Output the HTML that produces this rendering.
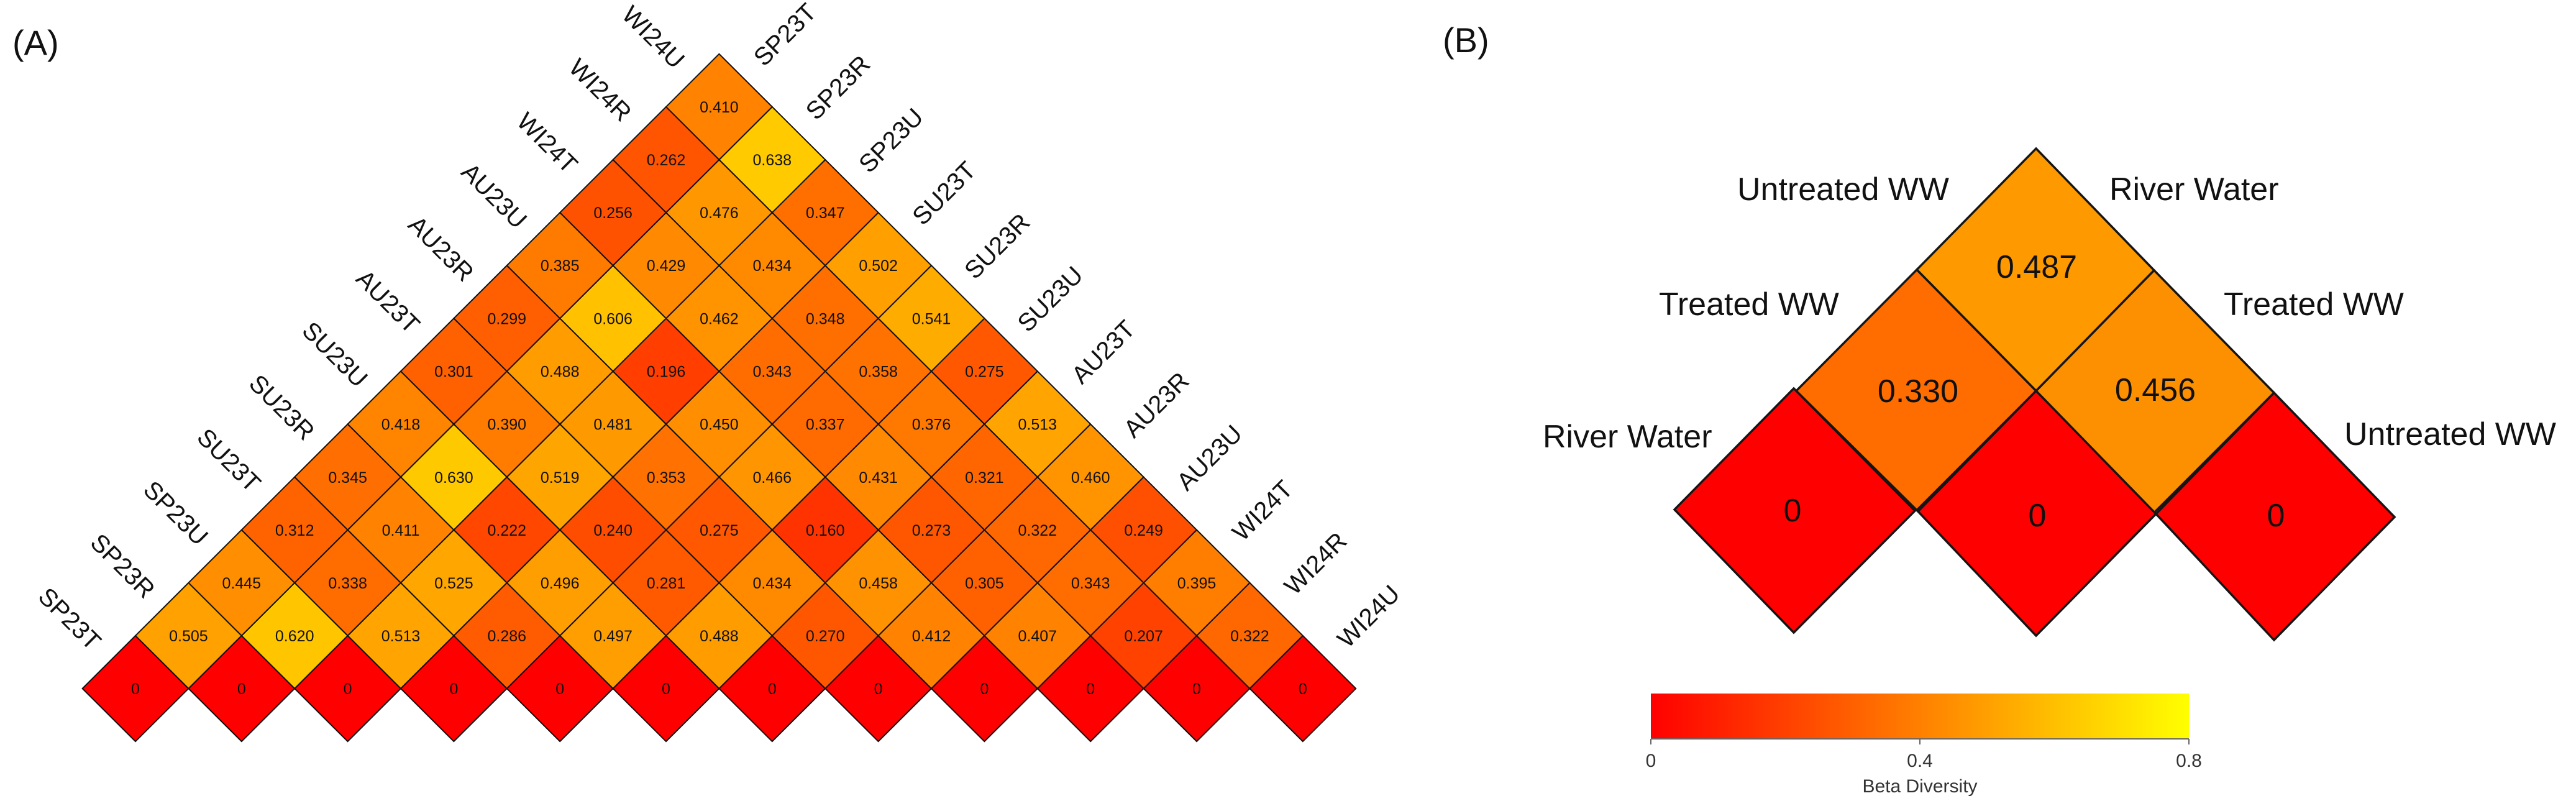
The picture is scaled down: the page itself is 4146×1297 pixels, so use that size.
<!DOCTYPE html>
<html><head><meta charset="utf-8"><style>
html,body{margin:0;padding:0;background:#fff;}
svg{display:block;}
text{font-family:"Liberation Sans",Arial,sans-serif;fill:#111;}
.n{font-size:25px;text-anchor:middle;}
.l{font-size:40px;text-anchor:middle;dominant-baseline:middle;}
.b{font-size:52px;text-anchor:middle;}
</style></head><body>
<svg width="4146" height="1297" viewBox="0 0 4146 1297" xmlns="http://www.w3.org/2000/svg">
<defs>
<polygon id="d" points="-85.4,0 0,-85.1 85.4,0 0,85.1" stroke="#111" stroke-width="2"/>
<linearGradient id="cb" x1="0" x2="1" y1="0" y2="0">
<stop offset="0" stop-color="#ff0000"/><stop offset="0.5" stop-color="#ff8000"/><stop offset="1" stop-color="#ffff00"/>
</linearGradient>
</defs>
<rect width="4146" height="1297" fill="#fff"/>
<text x="20" y="88" style="font-size:56px">(A)</text>
<text x="2322" y="84" style="font-size:56px">(B)</text>

<!-- row 0 -->
<use href="#d" x="218" y="1108" fill="#ff0000"/><use href="#d" x="388.8" y="1108" fill="#ff0000"/><use href="#d" x="559.6" y="1108" fill="#ff0000"/><use href="#d" x="730.4" y="1108" fill="#ff0000"/><use href="#d" x="901.2" y="1108" fill="#ff0000"/><use href="#d" x="1072" y="1108" fill="#ff0000"/><use href="#d" x="1242.8" y="1108" fill="#ff0000"/><use href="#d" x="1413.6" y="1108" fill="#ff0000"/><use href="#d" x="1584.4" y="1108" fill="#ff0000"/><use href="#d" x="1755.2" y="1108" fill="#ff0000"/><use href="#d" x="1926" y="1108" fill="#ff0000"/><use href="#d" x="2096.8" y="1108" fill="#ff0000"/>
<!-- row 1 -->
<use href="#d" x="303.4" y="1022.9" fill="rgb(255,161,0)"/><use href="#d" x="474.2" y="1022.9" fill="rgb(255,198,0)"/><use href="#d" x="645" y="1022.9" fill="rgb(255,164,0)"/><use href="#d" x="815.8" y="1022.9" fill="rgb(255,91,0)"/><use href="#d" x="986.6" y="1022.9" fill="rgb(255,158,0)"/><use href="#d" x="1157.4" y="1022.9" fill="rgb(255,156,0)"/><use href="#d" x="1328.2" y="1022.9" fill="rgb(255,86,0)"/><use href="#d" x="1499" y="1022.9" fill="rgb(255,131,0)"/><use href="#d" x="1669.8" y="1022.9" fill="rgb(255,130,0)"/><use href="#d" x="1840.6" y="1022.9" fill="rgb(255,66,0)"/><use href="#d" x="2011.4" y="1022.9" fill="rgb(255,103,0)"/>
<!-- row 2 -->
<use href="#d" x="388.8" y="937.8" fill="rgb(255,142,0)"/><use href="#d" x="559.6" y="937.8" fill="rgb(255,108,0)"/><use href="#d" x="730.4" y="937.8" fill="rgb(255,167,0)"/><use href="#d" x="901.2" y="937.8" fill="rgb(255,158,0)"/><use href="#d" x="1072" y="937.8" fill="rgb(255,90,0)"/><use href="#d" x="1242.8" y="937.8" fill="rgb(255,138,0)"/><use href="#d" x="1413.6" y="937.8" fill="rgb(255,146,0)"/><use href="#d" x="1584.4" y="937.8" fill="rgb(255,97,0)"/><use href="#d" x="1755.2" y="937.8" fill="rgb(255,109,0)"/><use href="#d" x="1926" y="937.8" fill="rgb(255,126,0)"/>
<!-- row 3 -->
<use href="#d" x="474.2" y="852.7" fill="rgb(255,99,0)"/><use href="#d" x="645" y="852.7" fill="rgb(255,131,0)"/><use href="#d" x="815.8" y="852.7" fill="rgb(255,71,0)"/><use href="#d" x="986.6" y="852.7" fill="rgb(255,77,0)"/><use href="#d" x="1157.4" y="852.7" fill="rgb(255,88,0)"/><use href="#d" x="1328.2" y="852.7" fill="rgb(255,51,0)"/><use href="#d" x="1499" y="852.7" fill="rgb(255,87,0)"/><use href="#d" x="1669.8" y="852.7" fill="rgb(255,103,0)"/><use href="#d" x="1840.6" y="852.7" fill="rgb(255,79,0)"/>
<!-- row 4 -->
<use href="#d" x="559.6" y="767.6" fill="rgb(255,110,0)"/><use href="#d" x="730.4" y="767.6" fill="rgb(255,201,0)"/><use href="#d" x="901.2" y="767.6" fill="rgb(255,165,0)"/><use href="#d" x="1072" y="767.6" fill="rgb(255,113,0)"/><use href="#d" x="1242.8" y="767.6" fill="rgb(255,149,0)"/><use href="#d" x="1413.6" y="767.6" fill="rgb(255,137,0)"/><use href="#d" x="1584.4" y="767.6" fill="rgb(255,102,0)"/><use href="#d" x="1755.2" y="767.6" fill="rgb(255,147,0)"/>
<!-- row 5 -->
<use href="#d" x="645" y="682.5" fill="rgb(255,133,0)"/><use href="#d" x="815.8" y="682.5" fill="rgb(255,124,0)"/><use href="#d" x="986.6" y="682.5" fill="rgb(255,153,0)"/><use href="#d" x="1157.4" y="682.5" fill="rgb(255,143,0)"/><use href="#d" x="1328.2" y="682.5" fill="rgb(255,107,0)"/><use href="#d" x="1499" y="682.5" fill="rgb(255,120,0)"/><use href="#d" x="1669.8" y="682.5" fill="rgb(255,164,0)"/>
<!-- row 6 -->
<use href="#d" x="730.4" y="597.4" fill="rgb(255,96,0)"/><use href="#d" x="901.2" y="597.4" fill="rgb(255,156,0)"/><use href="#d" x="1072" y="597.4" fill="rgb(255,62,0)"/><use href="#d" x="1242.8" y="597.4" fill="rgb(255,109,0)"/><use href="#d" x="1413.6" y="597.4" fill="rgb(255,114,0)"/><use href="#d" x="1584.4" y="597.4" fill="rgb(255,88,0)"/>
<!-- row 7 -->
<use href="#d" x="815.8" y="512.3" fill="rgb(255,95,0)"/><use href="#d" x="986.6" y="512.3" fill="rgb(255,193,0)"/><use href="#d" x="1157.4" y="512.3" fill="rgb(255,147,0)"/><use href="#d" x="1328.2" y="512.3" fill="rgb(255,111,0)"/><use href="#d" x="1499" y="512.3" fill="rgb(255,172,0)"/>
<!-- row 8 -->
<use href="#d" x="901.2" y="427.2" fill="rgb(255,123,0)"/><use href="#d" x="1072" y="427.2" fill="rgb(255,137,0)"/><use href="#d" x="1242.8" y="427.2" fill="rgb(255,138,0)"/><use href="#d" x="1413.6" y="427.2" fill="rgb(255,160,0)"/>
<!-- row 9 -->
<use href="#d" x="986.6" y="342.1" fill="rgb(255,82,0)"/><use href="#d" x="1157.4" y="342.1" fill="rgb(255,152,0)"/><use href="#d" x="1328.2" y="342.1" fill="rgb(255,111,0)"/>
<!-- row 10 -->
<use href="#d" x="1072" y="257" fill="rgb(255,84,0)"/><use href="#d" x="1242.8" y="257" fill="rgb(255,203,0)"/>
<!-- row 11 -->
<use href="#d" x="1157.4" y="171.9" fill="rgb(255,131,0)"/>

<!-- numbers -->
<g class="n">
<text x="218" y="1117">0</text><text x="388.8" y="1117">0</text><text x="559.6" y="1117">0</text><text x="730.4" y="1117">0</text><text x="901.2" y="1117">0</text><text x="1072" y="1117">0</text><text x="1242.8" y="1117">0</text><text x="1413.6" y="1117">0</text><text x="1584.4" y="1117">0</text><text x="1755.2" y="1117">0</text><text x="1926" y="1117">0</text><text x="2096.8" y="1117">0</text>
<text x="303.4" y="1032">0.505</text><text x="474.2" y="1032">0.620</text><text x="645" y="1032">0.513</text><text x="815.8" y="1032">0.286</text><text x="986.6" y="1032">0.497</text><text x="1157.4" y="1032">0.488</text><text x="1328.2" y="1032">0.270</text><text x="1499" y="1032">0.412</text><text x="1669.8" y="1032">0.407</text><text x="1840.6" y="1032">0.207</text><text x="2011.4" y="1032">0.322</text>
<text x="388.8" y="947">0.445</text><text x="559.6" y="947">0.338</text><text x="730.4" y="947">0.525</text><text x="901.2" y="947">0.496</text><text x="1072" y="947">0.281</text><text x="1242.8" y="947">0.434</text><text x="1413.6" y="947">0.458</text><text x="1584.4" y="947">0.305</text><text x="1755.2" y="947">0.343</text><text x="1926" y="947">0.395</text>
<text x="474.2" y="862">0.312</text><text x="645" y="862">0.411</text><text x="815.8" y="862">0.222</text><text x="986.6" y="862">0.240</text><text x="1157.4" y="862">0.275</text><text x="1328.2" y="862">0.160</text><text x="1499" y="862">0.273</text><text x="1669.8" y="862">0.322</text><text x="1840.6" y="862">0.249</text>
<text x="559.6" y="777">0.345</text><text x="730.4" y="777">0.630</text><text x="901.2" y="777">0.519</text><text x="1072" y="777">0.353</text><text x="1242.8" y="777">0.466</text><text x="1413.6" y="777">0.431</text><text x="1584.4" y="777">0.321</text><text x="1755.2" y="777">0.460</text>
<text x="645" y="691.5">0.418</text><text x="815.8" y="691.5">0.390</text><text x="986.6" y="691.5">0.481</text><text x="1157.4" y="691.5">0.450</text><text x="1328.2" y="691.5">0.337</text><text x="1499" y="691.5">0.376</text><text x="1669.8" y="691.5">0.513</text>
<text x="730.4" y="606.5">0.301</text><text x="901.2" y="606.5">0.488</text><text x="1072" y="606.5">0.196</text><text x="1242.8" y="606.5">0.343</text><text x="1413.6" y="606.5">0.358</text><text x="1584.4" y="606.5">0.275</text>
<text x="815.8" y="521.5">0.299</text><text x="986.6" y="521.5">0.606</text><text x="1157.4" y="521.5">0.462</text><text x="1328.2" y="521.5">0.348</text><text x="1499" y="521.5">0.541</text>
<text x="901.2" y="436">0.385</text><text x="1072" y="436">0.429</text><text x="1242.8" y="436">0.434</text><text x="1413.6" y="436">0.502</text>
<text x="986.6" y="351">0.256</text><text x="1157.4" y="351">0.476</text><text x="1328.2" y="351">0.347</text>
<text x="1072" y="266">0.262</text><text x="1242.8" y="266">0.638</text>
<text x="1157.4" y="181">0.410</text>
</g>

<!-- left labels -->
<g class="l">
<text x="110" y="998" transform="rotate(45 110 998)">SP23T</text>
<text x="195.4" y="912.9" transform="rotate(45 195.4 912.9)">SP23R</text>
<text x="280.8" y="827.8" transform="rotate(45 280.8 827.8)">SP23U</text>
<text x="366.2" y="742.7" transform="rotate(45 366.2 742.7)">SU23T</text>
<text x="451.6" y="657.6" transform="rotate(45 451.6 657.6)">SU23R</text>
<text x="537" y="572.5" transform="rotate(45 537 572.5)">SU23U</text>
<text x="622.4" y="487.4" transform="rotate(45 622.4 487.4)">AU23T</text>
<text x="707.8" y="402.3" transform="rotate(45 707.8 402.3)">AU23R</text>
<text x="793.2" y="317.2" transform="rotate(45 793.2 317.2)">AU23U</text>
<text x="878.6" y="232.1" transform="rotate(45 878.6 232.1)">WI24T</text>
<text x="964" y="147" transform="rotate(45 964 147)">WI24R</text>
<text x="1049.4" y="61.9" transform="rotate(45 1049.4 61.9)">WI24U</text>
<!-- right labels -->
<text x="2204.8" y="994" transform="rotate(-45 2204.8 994)">WI24U</text>
<text x="2119.4" y="908.9" transform="rotate(-45 2119.4 908.9)">WI24R</text>
<text x="2034" y="823.8" transform="rotate(-45 2034 823.8)">WI24T</text>
<text x="1948.6" y="738.7" transform="rotate(-45 1948.6 738.7)">AU23U</text>
<text x="1863.2" y="653.6" transform="rotate(-45 1863.2 653.6)">AU23R</text>
<text x="1777.8" y="568.5" transform="rotate(-45 1777.8 568.5)">AU23T</text>
<text x="1692.4" y="483.4" transform="rotate(-45 1692.4 483.4)">SU23U</text>
<text x="1607" y="398.3" transform="rotate(-45 1607 398.3)">SU23R</text>
<text x="1521.6" y="313.2" transform="rotate(-45 1521.6 313.2)">SU23T</text>
<text x="1436.2" y="228.1" transform="rotate(-45 1436.2 228.1)">SP23U</text>
<text x="1350.8" y="143" transform="rotate(-45 1350.8 143)">SP23R</text>
<text x="1265.4" y="57.9" transform="rotate(-45 1265.4 57.9)">SP23T</text>
</g>

<!-- Panel B -->
<g stroke="#151515" stroke-width="3.5" stroke-linejoin="miter">
<polygon points="3277,239 3467,435 3277,629 3085,434" fill="#fe9a00"/>
<polygon points="3085,434 3277,629 3085,821 2891,629" fill="#ff6c00"/>
<polygon points="3467,435 3660,632 3467,825 3277,629" fill="#fd9000"/>
<polygon points="2887,625 3082,822 2887,1018 2695,820" fill="#ff0000"/>
<polygon points="3277,629 3470,827 3277,1023 3087,823" fill="#ff0000"/>
<polygon points="3660,632 3854,832 3660,1030 3470,827" fill="#ff0000"/>
</g>
<g class="b">
<text x="3278" y="447">0.487</text>
<text x="3087" y="647">0.330</text>
<text x="3469" y="645">0.456</text>
<text x="2885" y="839">0</text>
<text x="3279" y="847">0</text>
<text x="3663" y="847">0</text>
</g>
<g style="font-size:52px">
<text x="2796" y="322">Untreated WW</text>
<text x="3395" y="322">River Water</text>
<text x="2670" y="507">Treated WW</text>
<text x="3579" y="507">Treated WW</text>
<text x="2483" y="720">River Water</text>
<text x="3773" y="716">Untreated WW</text>
</g>

<!-- colorbar -->
<rect x="2657" y="1116" width="866" height="73" fill="url(#cb)"/>
<g stroke="#666" stroke-width="2">
<line x1="2657" y1="1189" x2="3523" y2="1189"/>
<line x1="2657" y1="1189" x2="2657" y2="1198"/>
<line x1="3090" y1="1189" x2="3090" y2="1198"/>
<line x1="3523" y1="1189" x2="3523" y2="1198"/>
</g>
<g style="font-size:30px;text-anchor:middle" >
<text x="2657" y="1234" style="fill:#333">0</text>
<text x="3090" y="1234" style="fill:#333">0.4</text>
<text x="3523" y="1234" style="fill:#333">0.8</text>
<text x="3090" y="1275" style="fill:#333">Beta Diversity</text>
</g>
</svg>
</body></html>
